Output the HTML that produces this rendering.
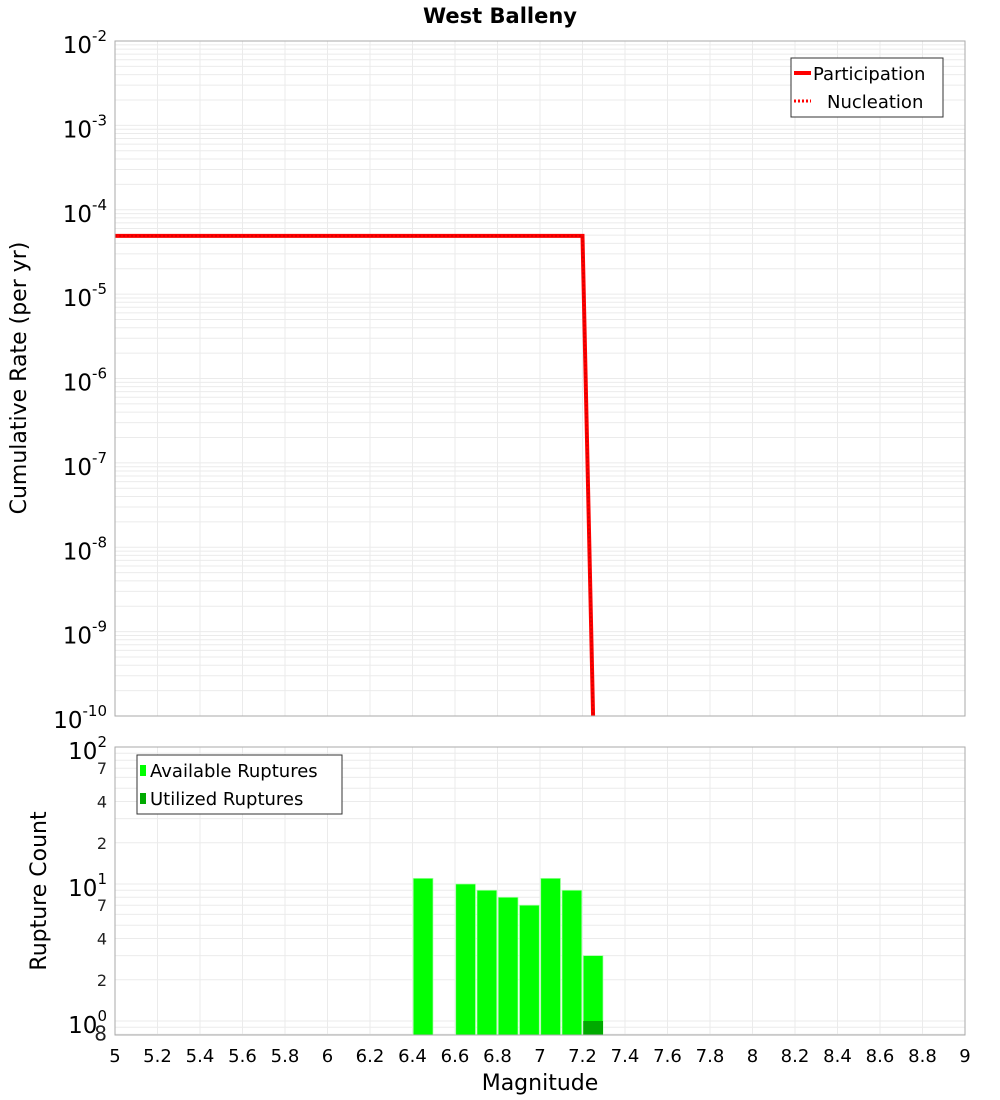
<!DOCTYPE html>
<html><head><meta charset="utf-8"><style>
html,body{margin:0;padding:0;background:#fff;width:1000px;height:1100px;overflow:hidden;font-family:"Liberation Sans","DejaVu Sans",sans-serif}
</style></head><body>
<svg id="chart" width="1000" height="1100" xmlns="http://www.w3.org/2000/svg" font-family="DejaVu Sans, Liberation Sans, sans-serif">
<text x="500" y="23" text-anchor="middle" font-size="21" font-weight="bold">West Balleny</text>
<g id="topg"></g><g id="botg"></g>
<text transform="translate(26,378) rotate(-90)" text-anchor="middle" font-size="22">Cumulative Rate (per yr)</text>
<text transform="translate(46,891) rotate(-90)" text-anchor="middle" font-size="22">Rupture Count</text>
<text x="540" y="1090" text-anchor="middle" font-size="22">Magnitude</text>
</svg>
<script>
const rateMags = [5.0, 7.2, 7.25];
const rateParticipation = [4.9e-5, 4.9e-5, 1e-11];
const rateNucleation = [4.9e-5, 4.9e-5, 1e-11];
const barMags = [6.45, 6.65, 6.75, 6.85, 6.95, 7.05, 7.15, 7.25];
const barAvailable = [11, 10, 9, 8, 7, 11, 9, 3];
const utilMags = [7.25];
const barUtilized = [1];
const xTicks = [5,5.2,5.4,5.6,5.8,6,6.2,6.4,6.6,6.8,7,7.2,7.4,7.6,7.8,8,8.2,8.4,8.6,8.8,9];

const NS="http://www.w3.org/2000/svg";
const L=115,R=965;
const x=m=>L+(m-5)/4*(R-L);
const T1=41,B1=716, yT=v=>T1+(-2-Math.log10(v))/8*(B1-T1);
const T2=747,B2=1035, yB=v=>T2+(2-Math.log10(v))*137;
function mk(p,tag,at){const e=document.createElementNS(NS,tag);for(const k in at)e.setAttribute(k,at[k]);p.appendChild(e);return e;}
const topG=document.getElementById('topg'), botG=document.getElementById('botg');
for(let d=-10;d<-2;d++)for(let k=1;k<10;k++){const y=yT(k*Math.pow(10,d));
const g=mk(topG,'line',{x1:L,x2:R,y1:y,y2:y,stroke:'#ebebeb','stroke-width':1});

}
for(let d=-1;d<=1;d++)for(let k=1;k<10;k++){const v=k*Math.pow(10,d);if(v<0.8||v>100)continue;const y=yB(v);
const g=mk(botG,'line',{x1:L,x2:R,y1:y,y2:y,stroke:'#ebebeb','stroke-width':1});

}
xTicks.forEach(m=>{[[topG,T1,B1],[botG,T2,B2]].forEach(([p,a,b])=>{
const g=mk(p,'line',{x1:x(m),x2:x(m),y1:a,y2:b,stroke:'#ebebeb','stroke-width':1});

});
const t=mk(botG,'text',{x:x(m),y:1062,'text-anchor':'middle','font-size':18});t.textContent=String(m);

});
for(let d=-10;d<=-2;d++){const y=yT(Math.pow(10,d));
const t=mk(topG,'text',{x:107,y:y+12,'text-anchor':'end','font-size':23});
t.innerHTML='10<tspan dy="-12" font-size="15">'+d+'</tspan>';

}
function path(vals){return rateMags.map((m,i)=>(i?'L':'M')+x(m)+','+Math.min(yT(vals[i]),B1+2)).join(' ');}
const cp=mk(topG,'clipPath',{id:'c1'});mk(cp,'rect',{x:L,y:T1,width:R-L,height:B1-T1});
let p=mk(topG,'path',{d:path(rateParticipation),fill:'none',stroke:'#ff0000','stroke-width':4,'clip-path':'url(#c1)'});


p=mk(topG,'path',{d:path(rateNucleation),fill:'none',stroke:'#dd0000','stroke-width':2,'stroke-dasharray':'2,2','clip-path':'url(#c1)'});


let f=mk(topG,'rect',{x:L,y:T1,width:R-L,height:B1-T1,fill:'none',stroke:'#aaa'});


const lg=mk(topG,'g',{});


mk(lg,'rect',{x:791,y:58,width:152,height:59,fill:'#fff',stroke:'#333'});
mk(lg,'line',{x1:794,x2:811,y1:73,y2:73,stroke:'#f00','stroke-width':4});
mk(lg,'line',{x1:794,x2:811,y1:101,y2:101,stroke:'#f00','stroke-width':3,'stroke-dasharray':'2,2'});
let t=mk(lg,'text',{x:813,y:80,'font-size':18});t.textContent='Participation';


t=mk(lg,'text',{x:827,y:108,'font-size':18});t.textContent='Nucleation';


const bw=(x(5.1)-x(5))-1.5;
barMags.forEach((m,i)=>{const y=yB(barAvailable[i]);
const r=mk(botG,'rect',{x:x(m)-bw/2,y:y,width:bw,height:B2-y,fill:'#00ff00',stroke:'#aaffaa','stroke-width':0.7});

});
utilMags.forEach((m,i)=>{const y=yB(barUtilized[i]);
const r=mk(botG,'rect',{x:x(m)-bw/2,y:y,width:bw,height:B2-y,fill:'#00aa00'});

});
f=mk(botG,'rect',{x:L,y:T2,width:R-L,height:B2-T2,fill:'none',stroke:'#aaa'});


[[100,'2'],[10,'1'],[1,'0']].forEach(([v,e])=>{const y=yB(v);
const t=mk(botG,'text',{x:107,y:y+12,'text-anchor':'end','font-size':23});
t.innerHTML='10<tspan dy="-12" font-size="15">'+e+'</tspan>';

});
[[70,'7'],[40,'4'],[20,'2'],[7,'7'],[4,'4'],[2,'2'],[0.8,'8']].forEach(([v,s])=>{const y=yB(v);
const t=mk(botG,'text',{x:107,y:y+6,'text-anchor':'end','font-size':v===0.8?20:16,fill:'#222'});t.textContent=s;

});
const lg2=mk(botG,'g',{});


mk(lg2,'rect',{x:137,y:755,width:205,height:59,fill:'#fff',stroke:'#333'});
mk(lg2,'rect',{x:140,y:765,width:6,height:11,fill:'#00ff00'});
mk(lg2,'rect',{x:140,y:793,width:6,height:11,fill:'#00aa00'});
t=mk(lg2,'text',{x:150,y:777,'font-size':18});t.textContent='Available Ruptures';


t=mk(lg2,'text',{x:150,y:805,'font-size':18});t.textContent='Utilized Ruptures';


</script>
</body></html>
